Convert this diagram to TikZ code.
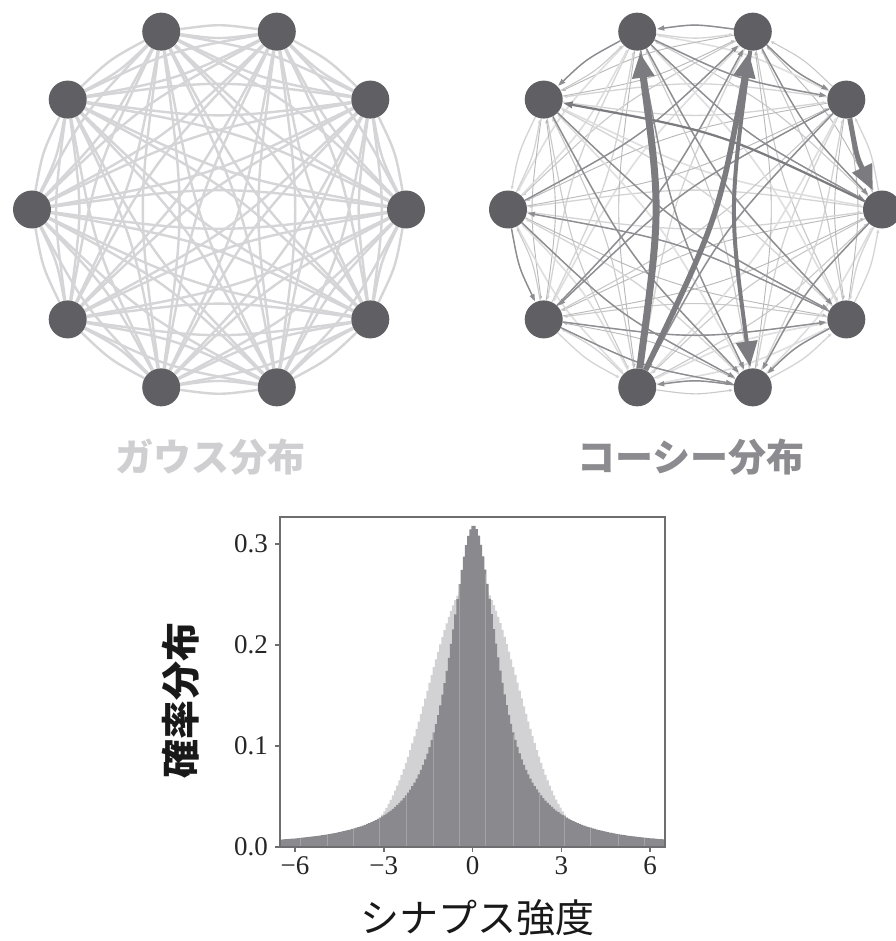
\documentclass[tikz,border=0pt]{standalone}
\usepackage{fontspec}
\setmainfont{Liberation Serif}
\newfontfamily\cjk{Noto Sans CJK JP}
\usetikzlibrary{calc,arrows.meta,backgrounds}
\definecolor{nodegray}{HTML}{606064}
\definecolor{gaussedge}{HTML}{D5D5D7}
\definecolor{gausslab}{HTML}{CFCFD1}
\definecolor{cauchylab}{HTML}{8C8C90}
\definecolor{histlight}{HTML}{D2D2D4}
\definecolor{histdark}{HTML}{8A8A8E}
\definecolor{framegray}{HTML}{6E6E70}
\definecolor{thickedge}{HTML}{7C7C80}
\definecolor{mededge}{HTML}{8E8E92}
\newcommand\arcedge[3]{\draw[#3] (#1) .. controls ($(#1)!0.5!(#2)!0.1333!-90:(#2)$) .. (#2);}
\tikzset{
  netnode/.style={circle, fill=nodegray, minimum size=38pt, inner sep=0pt},
  gauss/.style={draw=gaussedge, line width=2.4pt},
  rlight0/.style={draw=black!13, line width=1.6pt, -{Triangle[length=3.5pt,width=3pt]}, shorten >=1pt},
  rlight1/.style={draw=black!21, line width=1.1pt, -{Triangle[length=3.5pt,width=3pt]}, shorten >=1pt},
  rlight2/.style={draw=black!28, line width=0.9pt, -{Triangle[length=3.5pt,width=3pt]}, shorten >=1pt},
  rlight3/.style={draw=black!17, line width=1.3pt, -{Triangle[length=3.5pt,width=3pt]}, shorten >=1pt},
  rmed/.style={draw=mededge, line width=1.4pt, -{Triangle[length=7pt,width=5pt]}, shorten >=1pt},
  rdark/.style={draw=thickedge, line width=2.2pt, -{Triangle[length=9pt,width=6.5pt]}, shorten >=1pt},
  rthick/.style={draw=thickedge, line width=#1, -{Triangle[length=25pt,width=21pt]}, shorten >=2pt},
  frame/.style={draw=framegray, line width=1.6pt},
  ticklab/.style={inner sep=0pt, font=\fontsize{27}{27}\selectfont, text=black!85},
  biglab/.style={inner sep=0pt, font=\cjk\bfseries\fontsize{38}{40}\selectfont},
  axlab/.style={inner sep=0pt, font=\cjk\fontsize{39}{41}\selectfont, text=black!90}
}
\begin{document}
\begin{tikzpicture}[x=1pt,y=-1pt]
\useasboundingbox (0,0) rectangle (895,941);
% nodes
\foreach \k in {0,...,9}{
  \node[netnode] (L\k) at ({219+187*cos(36*\k)},{209.5-187*sin(36*\k)}) {};
  \node[netnode] (R\k) at ({695+187*cos(36*\k)},{209.5-187*sin(36*\k)}) {};
}
\begin{scope}[on background layer]
\fill[white] (0,0) rectangle (895,941);
% Gaussian network
\foreach \i in {0,...,9}{
  \foreach \j in {0,...,9}{
    \ifnum\i=\j\else \arcedge{L\i}{L\j}{gauss}\fi
  }
}
% Cauchy network: weak edges
\foreach \i in {0,...,9}{
  \foreach \j in {0,...,9}{
    \ifnum\i=\j\else
      \pgfmathtruncatemacro\sh{mod(\i*7+\j*3,4)}
      \arcedge{R\i}{R\j}{rlight\sh}
    \fi
  }
}
% medium edges
\foreach \i/\j in {2/3,3/4,9/5,8/7,0/8,3/8,5/8,6/8,6/2,5/2,3/0,3/1,2/0,2/1,4/8,1/6,3/9,4/9,9/8,5/6,6/9,1/7}{
  \arcedge{R\i}{R\j}{rmed}
}
\arcedge{R0}{R4}{rdark}
% strong edges
\arcedge{R7}{R3}{rthick=7pt}
\arcedge{R7}{R2}{rthick=5.5pt}
\arcedge{R2}{R8}{rthick=4pt}
\arcedge{R1}{R0}{rthick=5pt}
\end{scope}
% labels
\node[biglab, text=gausslab] (glab) at (210,457) {ガウス分布};
\node[biglab, text=cauchylab] (clab) at (691,457) {コーシー分布};
% histogram
\begin{scope}[shift={(472.5,847)}, x=29.6pt, y=1010pt]
  \fill[histlight] (-6.5,0) -- plot[const plot, domain=-6.5:6.5, samples=180] (\x,{0.26596*exp(-(\x)*(\x)/4.5)}) -- (6.5,0) -- cycle;
  \fill[histdark] (-6.5,0) -- plot[const plot, domain=-6.5:6.5, samples=180] (\x,{1/(pi*(1+(\x)*(\x)))}) -- (6.5,0) -- cycle;
  \foreach \v in {-5.8,-4.9,-4.04,-3.16,-2.24,-1.33,-0.46,0.42,1.37,2.25,3.1,3.97,4.92,5.8}{
    \draw[white, opacity=0.22, line width=0.7pt] (\v,0) -- (\v,{1/(pi*(1+(\v)*(\v)))});
  }
  \draw[frame] (-6.5,0) rectangle (6.5,0.327);
  \foreach \t/\s [count=\n] in {-6/−6,-3/−3,0/0,3/3,6/6}{
    \draw[frame] (\t,0) -- ++(0,-5pt);
    \node[ticklab, anchor=north] (xt\n) at ($(\t,0)+(0,-9pt)$) {\s};
  }
  \foreach \v/\s [count=\n] in {0/0.0,0.1/0.1,0.2/0.2,0.3/0.3}{
    \draw[frame] (-6.5,\v) -- ++(-5pt,0);
    \node[ticklab, anchor=east] (yt\n) at ($(-6.5,\v)+(-12pt,0)$) {\s};
  }
\end{scope}
\node[axlab] (xlab) at (477,918) {シナプス強度};
\node[axlab, font=\cjk\bfseries\fontsize{39}{41}\selectfont, rotate=90] (ylab) at (181,700) {確率分布};
\end{tikzpicture}
\end{document}
